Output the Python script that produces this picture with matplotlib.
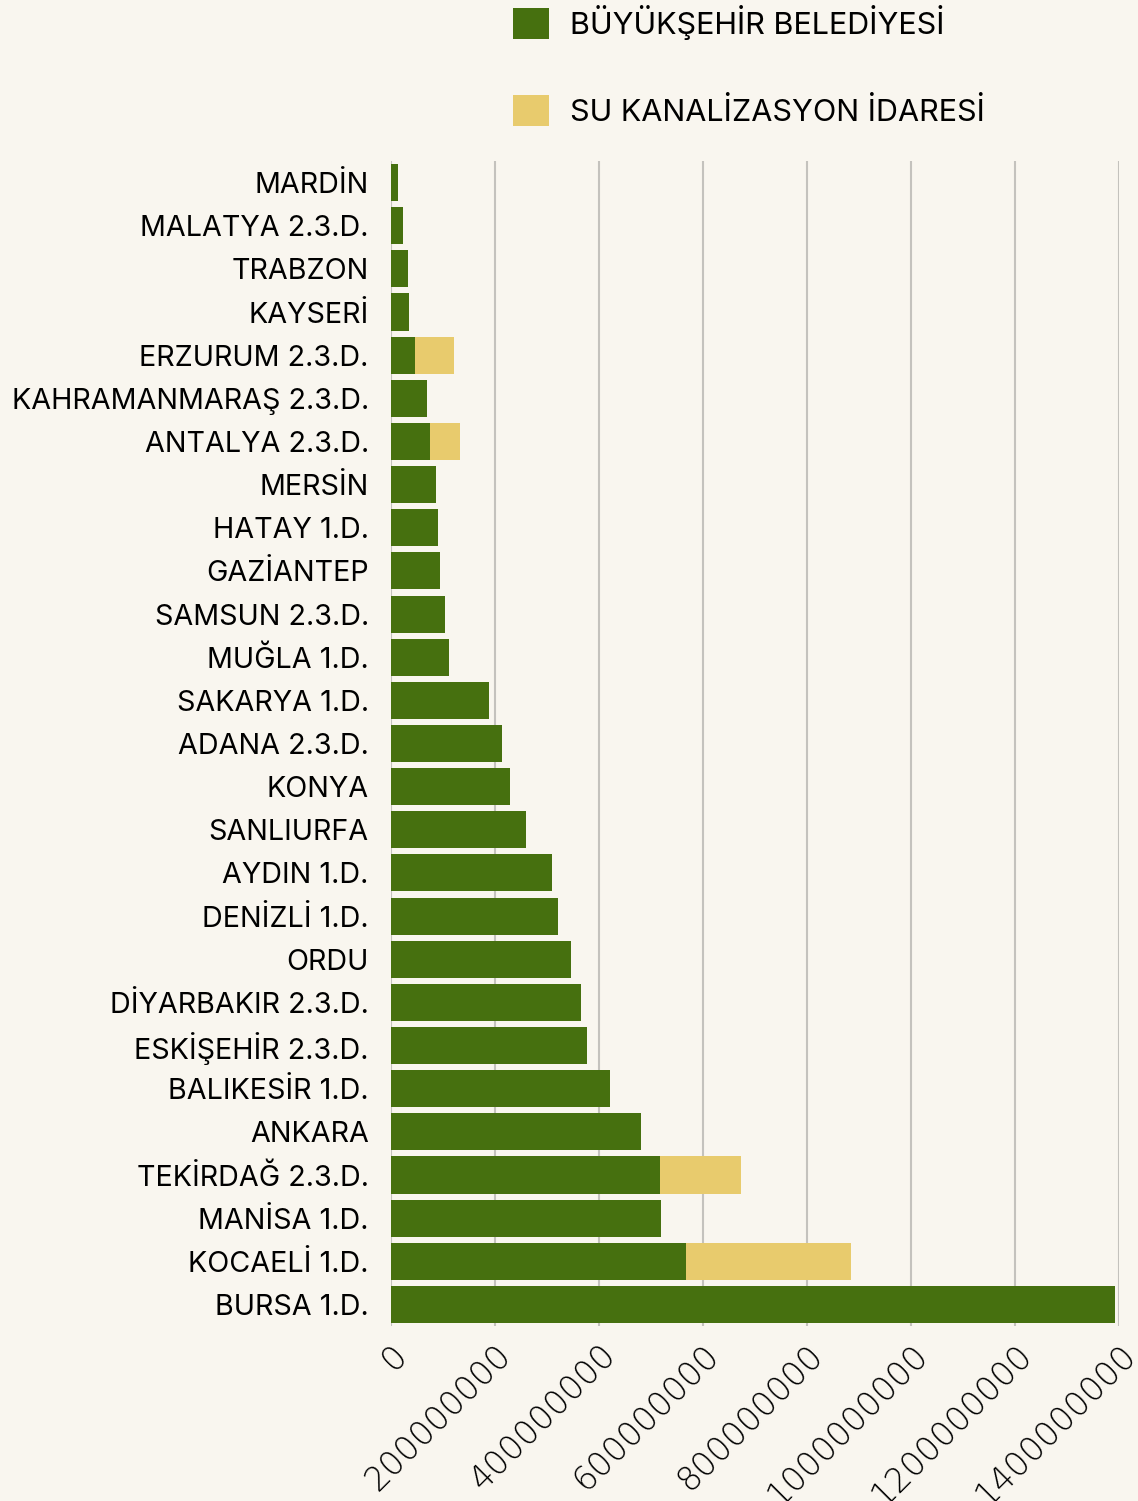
import numpy as np
import matplotlib
matplotlib.use("Agg")
import matplotlib.pyplot as plt
from matplotlib.patches import Patch

cities = ["MARDİN", "MALATYA 2.3.D.", "TRABZON", "KAYSERİ", "ERZURUM 2.3.D.",
          "KAHRAMANMARAŞ 2.3.D.", "ANTALYA 2.3.D.", "MERSİN", "HATAY 1.D.",
          "GAZİANTEP", "SAMSUN 2.3.D.", "MUĞLA 1.D.", "SAKARYA 1.D.",
          "ADANA 2.3.D.", "KONYA", "SANLIURFA", "AYDIN 1.D.", "DENİZLİ 1.D.",
          "ORDU", "DİYARBAKIR 2.3.D.", "ESKİŞEHİR 2.3.D.", "BALIKESİR 1.D.",
          "ANKARA", "TEKİRDAĞ 2.3.D.", "MANİSA 1.D.", "KOCAELİ 1.D.", "BURSA 1.D."]

# values in TL
belediye = [13e6, 23e6, 33e6, 35e6, 46e6, 70e6, 75e6, 86e6, 91e6, 95e6, 103e6,
            112e6, 188e6, 214e6, 228e6, 260e6, 309e6, 322e6, 347e6, 365e6,
            377e6, 422e6, 480e6, 517e6, 519e6, 567e6, 1392e6]
ski = [0, 0, 0, 0, 75e6, 0, 58e6, 0, 0, 0, 0, 0, 0, 0, 0, 0, 0, 0, 0, 0, 0,
       0, 0, 156e6, 0, 317e6, 0]
xticks = [0, 200e6, 400e6, 600e6, 800e6, 1000e6, 1200e6, 1400e6]

green = "#46700f"
yellow = "#e8cb6d"
bg = "#f9f6ef"

fig = plt.figure(figsize=(11.38, 15.01), dpi=100, facecolor=bg)
ax = fig.add_axes([391 / 1138, 1 - 1326 / 1501, 728 / 1138, (1326 - 161) / 1501])
ax.set_facecolor(bg)

y = np.arange(len(cities))
ax.barh(y, belediye, height=0.86, color=green, zorder=3)
ax.barh(y, ski, left=belediye, height=0.86, color=yellow, zorder=3)

ax.set_xlim(0, 1400e6)
ax.set_ylim(len(cities) - 0.5, -0.5)
ax.set_xticks(xticks)
ax.set_xticklabels([f"{int(v)}" for v in xticks],
                   rotation=45, ha="right", va="top", rotation_mode="anchor",
                   fontsize=24, fontfamily="DejaVu Sans", fontweight="light")
ax.set_yticks(y)
ax.set_yticklabels(cities, fontsize=20.7, fontfamily="Inter")
ax.tick_params(axis="both", length=0)
ax.tick_params(axis="y", pad=16)
ax.tick_params(axis="x", pad=9)
ax.grid(axis="x", color="#c4c2bd", linewidth=1.5, zorder=0)
for s in ax.spines.values():
    s.set_visible(False)

handles = [Patch(facecolor=green, label="BÜYÜKŞEHİR BELEDİYESİ"),
           Patch(facecolor=yellow, label="SU KANALİZASYON İDARESİ")]
fig.legend(handles=handles, loc="upper left", bbox_to_anchor=(513 / 1138, 1 - 5 / 1501),
           frameon=False, prop={"family": "Inter", "size": 22},
           handlelength=1.18, handleheight=1.18, labelspacing=1.8,
           handletextpad=0.68, borderpad=0, borderaxespad=0)

fig.savefig("out.png", dpi=100, facecolor=bg)
